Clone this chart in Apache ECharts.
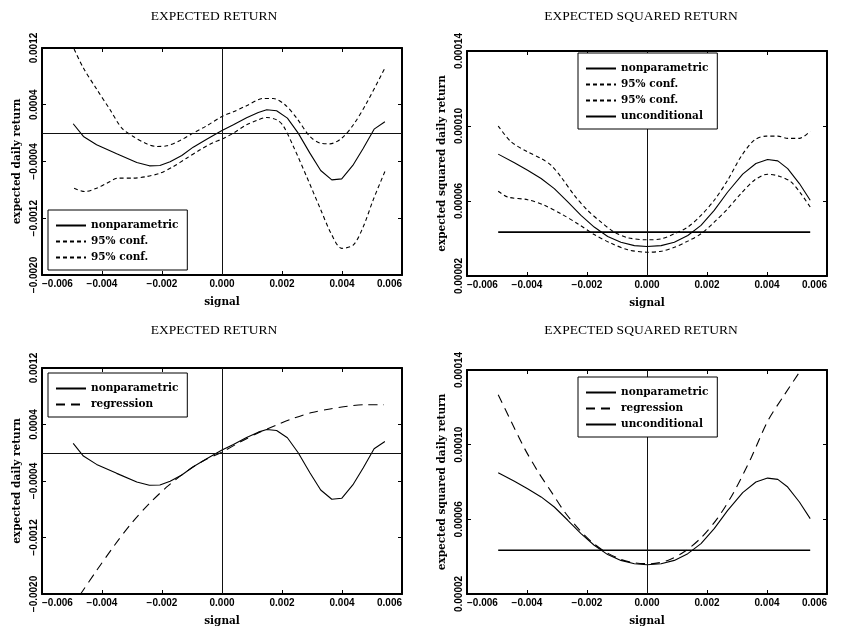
<!DOCTYPE html>
<html>
<head>
<meta charset="utf-8">
<script src="https://cdn.jsdelivr.net/npm/echarts@6/dist/echarts.min.js"></script>
<style>html,body{margin:0;padding:0;background:#fff}#c{width:842px;height:630px}</style>
</head>
<body>
<div id="c"></div>
<script>
// ---- tick labels ----
const xTickVals = [-0.006, -0.004, -0.002, 0, 0.002, 0.004, 0.006];
const xTickLabels = ['\u22120.006', '\u22120.004', '\u22120.002', '0.000', '0.002', '0.004', '0.006'];
const retTickVals = [-0.0020, -0.0012, -0.0004, 0.0004, 0.0012];
const retTickLabels = ['\u22120.0020', '\u22120.0012', '\u22120.0004', '0.0004', '0.0012'];
const sqTickVals = [0.00002, 0.00006, 0.00010, 0.00014];
const sqTickLabels = ['0.00002', '0.00006', '0.00010', '0.00014'];

// ---- expected return: nonparametric ----
const retNpX = [-0.00496,-0.00462,-0.00418,-0.00351,-0.00284,-0.00242,-0.00207,-0.00173,-0.00134,-0.00096,-0.00051,0,0.00038,0.00082,0.00121,0.00149,0.00182,0.00218,0.00254,0.00293,0.00329,0.00366,0.00399,0.00436,0.00471,0.00507,0.00543];
const retNpY = [0.000132,-0.000047,-0.000165,-0.000292,-0.000414,-0.000461,-0.000456,-0.000405,-0.000315,-0.000198,-0.000085,0.000038,0.000118,0.000216,0.000292,0.000329,0.000315,0.000212,0,-0.000282,-0.000527,-0.000659,-0.000645,-0.000456,-0.000212,0.000056,0.00016];
// upper 95% conf
const retUpX = [-0.00493,-0.00462,-0.00418,-0.00373,-0.00334,-0.00296,-0.00251,-0.00218,-0.00184,-0.0014,-0.00096,-0.00051,0,0.00038,0.00082,0.00138,0.00171,0.0021,0.00249,0.00293,0.00327,0.0036,0.00399,0.00438,0.00482,0.00543];
const retUpY = [0.001186,0.000918,0.000621,0.000329,0.000071,-0.000047,-0.000151,-0.000188,-0.000179,-0.000104,0,0.000104,0.000235,0.000301,0.000386,0.000489,0.000489,0.0004,0.000212,-0.000047,-0.000141,-0.000151,-0.000071,0.000118,0.000424,0.000918];
// lower 95% conf
const retLoX = [-0.00493,-0.00457,-0.00418,-0.00384,-0.00346,-0.00296,-0.00251,-0.00207,-0.00162,-0.00118,-0.00073,-0.00029,0,0.00038,0.00082,0.00116,0.00149,0.00182,0.00204,0.00238,0.00282,0.00327,0.00366,0.00399,0.00438,0.00471,0.00504,0.00543];
const retLoY = [-0.000776,-0.000824,-0.000776,-0.000706,-0.000635,-0.000635,-0.000612,-0.000565,-0.000471,-0.000353,-0.000235,-0.000132,-0.000085,0,0.000118,0.000179,0.000221,0.000188,0.000104,-0.000188,-0.000612,-0.001059,-0.001435,-0.001624,-0.001576,-0.001318,-0.000941,-0.000541];
// regression
const retRegX = [-0.00473,-0.0042,-0.0036,-0.003,-0.0024,-0.0018,-0.0012,-0.0006,0,0.0006,0.0012,0.0018,0.0024,0.003,0.0036,0.0042,0.0048,0.0054];
const retRegY = [-0.00201,-0.00168,-0.00132,-0.00099,-0.00071,-0.00047,-0.00027,-0.00011,0.00001,0.00015,0.00028,0.00039,0.00049,0.00057,0.00062,0.00066,0.00068,0.00068];

// ---- expected squared return ----
const sqNpX = [-0.00496,-0.00442,-0.00398,-0.00353,-0.00309,-0.00264,-0.0022,-0.00176,-0.00131,-0.00087,-0.00042,0,0.00047,0.00091,0.00136,0.0018,0.00224,0.00269,0.00319,0.00363,0.00402,0.00436,0.00469,0.00508,0.00544];
const sqNpY = [0.000085,0.0000804,0.0000764,0.000072,0.0000666,0.0000595,0.0000523,0.0000461,0.0000411,0.000038,0.0000362,0.0000357,0.0000362,0.000038,0.0000416,0.000047,0.000055,0.0000648,0.0000743,0.00008,0.0000821,0.0000814,0.0000773,0.0000693,0.0000604];
const sqUpX = [-0.00496,-0.00453,-0.00398,-0.00353,-0.0032,-0.00287,-0.00242,-0.00198,-0.00153,-0.00109,-0.00064,0,0.00047,0.00091,0.00136,0.0018,0.00224,0.00269,0.00313,0.00358,0.00397,0.00436,0.00469,0.00508,0.00544];
const sqUpY = [0.0001,0.0000916,0.0000862,0.0000827,0.0000791,0.0000729,0.000063,0.000055,0.0000487,0.0000434,0.0000404,0.0000393,0.0000398,0.0000425,0.0000461,0.0000523,0.0000604,0.0000711,0.0000836,0.0000925,0.0000946,0.0000946,0.0000934,0.0000934,0.0000973];
const sqLoX = [-0.00496,-0.00464,-0.00398,-0.00342,-0.00287,-0.00231,-0.00176,-0.0012,-0.00064,0,0.00047,0.00091,0.00136,0.0018,0.00224,0.00269,0.00313,0.00358,0.00402,0.00441,0.0048,0.00513,0.00544];
const sqLoY = [0.0000652,0.0000621,0.0000607,0.0000577,0.0000532,0.0000479,0.0000421,0.0000375,0.000034,0.0000327,0.0000332,0.0000353,0.0000386,0.0000425,0.0000487,0.0000559,0.0000639,0.0000711,0.0000743,0.0000732,0.0000702,0.0000639,0.0000568];
const sqRegX = [-0.00496,-0.00453,-0.00409,-0.00364,-0.0032,-0.00276,-0.00231,-0.00187,-0.00142,-0.00087,-0.00042,0.00013,0.00069,0.00124,0.0018,0.00236,0.00291,0.00347,0.00402,0.00458,0.00513];
const sqRegY = [0.0001267,0.0001125,0.0000982,0.0000857,0.000075,0.0000643,0.0000554,0.0000483,0.0000429,0.0000385,0.0000367,0.0000362,0.000038,0.0000426,0.0000501,0.0000608,0.000075,0.0000929,0.0001125,0.0001267,0.00014];
const sqUncX = [-0.00496, 0.00544];
const sqUncY = [0.0000434, 0.0000434];

// ---- helpers ----
const pairs = (xs, ys) => xs.map((x, i) => [x, ys[i]]);
const lookup = (vals, labels) => v => {
  for (let i = 0; i < vals.length; i++) if (Math.abs(v - vals[i]) < 1e-9) return labels[i];
  return '';
};
const BLACK = '#000';
const labelFont = { fontFamily: 'Liberation Sans', fontWeight: 'bold', fontSize: 10, color: BLACK };
const nameFont = { fontFamily: 'DejaVu Serif', fontWeight: 'bold', fontSize: 10.5, color: BLACK };

const grids = [
  { left: 42, top: 48, width: 360, height: 227 },
  { left: 467, top: 51, width: 360, height: 225 },
  { left: 42, top: 368, width: 360, height: 226 },
  { left: 467, top: 370, width: 360, height: 224 }
];

const xAxes = [], yAxes = [];
const yCfg = [
  { min: -0.002, max: 0.0012, interval: 0.0008, vals: retTickVals, labels: retTickLabels, name: 'expected daily return' },
  { min: 0.00002, max: 0.00014, interval: 0.00004, vals: sqTickVals, labels: sqTickLabels, name: 'expected squared daily return' },
  { min: -0.002, max: 0.0012, interval: 0.0008, vals: retTickVals, labels: retTickLabels, name: 'expected daily return' },
  { min: 0.00002, max: 0.00014, interval: 0.00004, vals: sqTickVals, labels: sqTickLabels, name: 'expected squared daily return' }
];
const axisLine = { onZero: false, lineStyle: { color: BLACK, width: 2 } };
const axisTick = { inside: true, length: 4, lineStyle: { color: BLACK, width: 1 } };
grids.forEach((g, i) => {
  xAxes.push({
    type: 'value', gridIndex: i, position: 'bottom', min: -0.006, max: 0.006, interval: 0.002,
    name: 'signal', nameLocation: 'middle', nameGap: 22, nameTextStyle: nameFont,
    axisLine, axisTick, splitLine: { show: false },
    axisLabel: Object.assign({ margin: 4, formatter: lookup(xTickVals, xTickLabels), alignMinLabel: 'left', alignMaxLabel: 'right' }, labelFont)
  });
  xAxes.push({
    type: 'value', gridIndex: i, position: 'top', min: -0.006, max: 0.006, interval: 0.002,
    axisLine, axisTick, splitLine: { show: false }, axisLabel: { show: false }
  });
  const c = yCfg[i];
  yAxes.push({
    type: 'value', gridIndex: i, position: 'left', min: c.min, max: c.max, interval: c.interval,
    name: c.name, nameLocation: 'middle', nameGap: 19, nameTextStyle: nameFont,
    axisLine, axisTick, splitLine: { show: false },
    axisLabel: Object.assign({ margin: 3, rotate: 90, formatter: lookup(c.vals, c.labels) }, labelFont)
  });
  yAxes.push({
    type: 'value', gridIndex: i, position: 'right', min: c.min, max: c.max, interval: c.interval,
    axisLine, axisTick, splitLine: { show: false }, axisLabel: { show: false }
  });
});

const refLines = (withH) => ({
  silent: true, symbol: 'none', animation: false,
  label: { show: false },
  lineStyle: { color: '#111', width: 1, type: 'solid' },
  emphasis: { disabled: true },
  data: withH ? [{ xAxis: 0 }, { yAxis: 0 }] : [{ xAxis: 0 }]
});

const line = (name, p, data, style, extra) => Object.assign({
  type: 'line', name, xAxisIndex: 2 * p, yAxisIndex: 2 * p, data,
  symbol: 'none', showSymbol: false, animation: false, silent: true,
  lineStyle: Object.assign({ color: BLACK, width: 1.1 }, style),
  itemStyle: { color: BLACK }
}, extra || {});

const SHORT = [4, 3];
const LONG = [9, 6];

const series = [
  line('nonparametric', 0, pairs(retNpX, retNpY), {}, { markLine: refLines(true) }),
  line('95% conf.', 0, pairs(retUpX, retUpY), { type: SHORT }, { smooth: 0.3 }),
  line('95% conf. ', 0, pairs(retLoX, retLoY), { type: SHORT }, { smooth: 0.3 }),

  line('nonparametric', 1, pairs(sqNpX, sqNpY), {}, { markLine: refLines(false) }),
  line('95% conf.', 1, pairs(sqUpX, sqUpY), { type: SHORT }, { smooth: 0.3 }),
  line('95% conf. ', 1, pairs(sqLoX, sqLoY), { type: SHORT }, { smooth: 0.3 }),
  line('unconditional', 1, pairs(sqUncX, sqUncY), { width: 1.6 }),

  line('nonparametric', 2, pairs(retNpX, retNpY), {}, { markLine: refLines(true) }),
  line('regression', 2, pairs(retRegX, retRegY), { type: LONG }, { smooth: 0.3 }),

  line('nonparametric', 3, pairs(sqNpX, sqNpY), {}, { markLine: refLines(false) }),
  line('regression', 3, pairs(sqRegX, sqRegY), { type: LONG }, { smooth: 0.3 }),
  line('unconditional', 3, pairs(sqUncX, sqUncY), { width: 1.6 })
];

const legendBase = {
  orient: 'vertical', selectedMode: false, itemWidth: 30, itemHeight: 10, itemGap: 5,
  padding: [10, 9, 7, 7], borderColor: BLACK, borderWidth: 1, backgroundColor: '#fff',
  itemStyle: { color: 'rgba(0,0,0,0)', borderColor: 'rgba(0,0,0,0)', borderWidth: 0, opacity: 0 },
  textStyle: { fontFamily: 'DejaVu Serif', fontWeight: 'bold', fontSize: 10.5, color: BLACK },
  z: 10
};
const legends = [
  Object.assign({ left: 48, top: 210, data: ['nonparametric', '95% conf.', '95% conf. '] }, legendBase),
  Object.assign({ left: 578, top: 53, data: ['nonparametric', '95% conf.', '95% conf. ', 'unconditional'] }, legendBase),
  Object.assign({ left: 48, top: 373, data: ['nonparametric', 'regression'] }, legendBase),
  Object.assign({ left: 578, top: 377, data: ['nonparametric', 'regression', 'unconditional'] }, legendBase)
];

const titleFont = { fontFamily: 'Liberation Serif', fontWeight: 'normal', fontSize: 13.5, color: BLACK };
const titles = [
  { text: 'EXPECTED RETURN', left: 214, top: 9 },
  { text: 'EXPECTED SQUARED RETURN', left: 641, top: 9 },
  { text: 'EXPECTED RETURN', left: 214, top: 323 },
  { text: 'EXPECTED SQUARED RETURN', left: 641, top: 323 }
].map(t => Object.assign(t, { textAlign: 'center', padding: 0, textStyle: titleFont }));

const chart = echarts.init(document.getElementById('c'), null, { renderer: 'canvas' });
chart.setOption({
  animation: false,
  backgroundColor: '#fff',
  title: titles,
  grid: grids,
  xAxis: xAxes,
  yAxis: yAxes,
  legend: legends,
  series
});
</script>
</body>
</html>
